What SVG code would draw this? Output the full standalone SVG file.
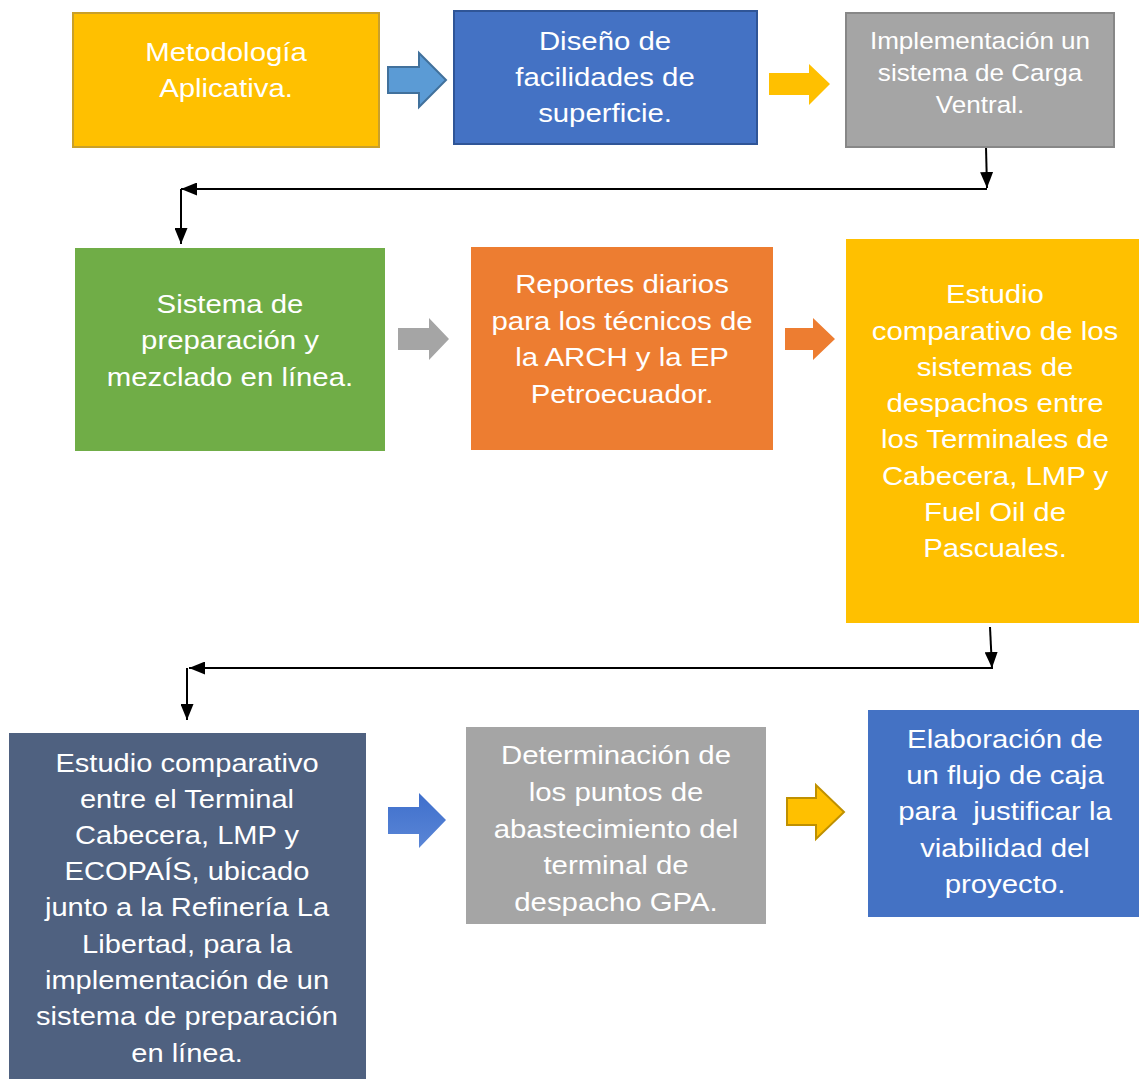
<svg xmlns="http://www.w3.org/2000/svg" width="1139" height="1079" viewBox="0 0 1139 1079">
<defs>
<style>
text{font-family:"Liberation Sans",Arial,sans-serif;font-size:26.7px;fill:#fff;text-anchor:middle}
.s text{font-size:23.7px}
.m text{font-size:26.4px}
.con{stroke:#000;stroke-width:2;fill:none}
</style>
<marker id="ah" viewBox="0 0 16 13" refX="16" refY="6.5" markerWidth="16" markerHeight="13" markerUnits="userSpaceOnUse" orient="auto"><path d="M0,0L16,6.5L0,13z" fill="#000"/></marker>
<linearGradient id="bg" x1="0" y1="0" x2="0" y2="1"><stop offset="0" stop-color="#3F6FCC"/><stop offset="1" stop-color="#5A86D6"/></linearGradient>
</defs>
<g id="connectors">
<path class="con" d="M986,147L987,188" marker-end="url(#ah)" stroke-width="3"/>
<path class="con" d="M987,189L181,189" marker-end="url(#ah)"/>
<path class="con" d="M181,189L181,244" marker-end="url(#ah)"/>
<path class="con" d="M990,627L992,668" marker-end="url(#ah)" stroke-width="3"/>
<path class="con" d="M993,668L189,668" marker-end="url(#ah)"/>
<path class="con" d="M187,668L187,720" marker-end="url(#ah)"/>
<path id="a1" d="M388,67H419V53L446,80L419,107V93H388Z" fill="#5B9BD5" stroke="#41719C" stroke-width="2"/>
<path id="a2" d="M769,73H809V64L830,84L809,105V95H769Z" fill="#FFC000"/>
<path id="a3" d="M398,328H429V318L449,339L429,360V350H398Z" fill="#A5A5A5"/>
<path id="a4" d="M785,328H813V318L835,339L813,360V350H785Z" fill="#ED7D31"/>
<path id="a5" d="M388,807H419V793L446,820L419,848V834H388Z" fill="url(#bg)"/>
<path id="a6" d="M787,798H816V785L844,812L816,839V825H787Z" fill="#FFC000" stroke="#BF9000" stroke-width="2"/>
</g>
<g id="n1"><rect x="73" y="13" width="306" height="134" fill="#FFC000" stroke="#C9A02A" stroke-width="2"/>
<g transform="translate(226 0) scale(1.1 1)"><text x="0" y="61">Metodología</text><text x="0" y="97">Aplicativa.</text></g></g>
<g id="n2"><rect x="454" y="11" width="303" height="133" fill="#4472C4" stroke="#2F5597" stroke-width="2"/>
<g transform="translate(605 0) scale(1.1 1)"><text x="0" y="50">Diseño de</text><text x="0" y="86">facilidades de</text><text x="0" y="122">superficie.</text></g></g>
<g id="n3"><rect x="846" y="13" width="268" height="134" fill="#A5A5A5" stroke="#878787" stroke-width="2"/>
<g class="s" transform="translate(980 0) scale(1.1 1)"><text x="0" y="49">Implementación un</text><text x="0" y="81">sistema de Carga</text><text x="0" y="113">Ventral.</text></g></g>
<g id="n4"><rect x="75" y="248" width="310" height="203" fill="#70AD47"/>
<g transform="translate(230 0) scale(1.1 1)"><text x="0" y="313">Sistema de</text><text x="0" y="349">preparación y</text><text x="0" y="386">mezclado en línea.</text></g></g>
<g id="n5"><rect x="471" y="247" width="302" height="203" fill="#ED7D31"/>
<g transform="translate(622 0) scale(1.1 1)"><text x="0" y="293">Reportes diarios</text><text x="0" y="330">para los técnicos de</text><text x="0" y="366">la ARCH y la EP</text><text x="0" y="403">Petroecuador.</text></g></g>
<g id="n6"><rect x="846" y="239" width="293" height="384" fill="#FFC000"/>
<g transform="translate(995 0) scale(1.1 1)"><text x="0" y="303">Estudio</text><text x="0" y="340">comparativo de los</text><text x="0" y="376">sistemas de</text><text x="0" y="412">despachos entre</text><text x="0" y="448">los Terminales de</text><text x="0" y="485">Cabecera, LMP y</text><text x="0" y="521">Fuel Oil de</text><text x="0" y="557">Pascuales.</text></g></g>
<g id="n7"><rect x="9" y="733" width="357" height="346" fill="#4F6180"/>
<g class="m" transform="translate(187 0) scale(1.1 1)"><text x="0" y="772">Estudio comparativo</text><text x="0" y="808">entre el Terminal</text><text x="0" y="844">Cabecera, LMP y</text><text x="0" y="880">ECOPAÍS, ubicado</text><text x="0" y="916">junto a la Refinería La</text><text x="0" y="953">Libertad, para la</text><text x="0" y="989">implementación de un</text><text x="0" y="1025">sistema de preparación</text><text x="0" y="1062">en línea.</text></g></g>
<g id="n8"><rect x="466" y="727" width="300" height="197" fill="#A5A5A5"/>
<g transform="translate(616 0) scale(1.1 1)"><text x="0" y="764">Determinación de</text><text x="0" y="801">los puntos de</text><text x="0" y="838">abastecimiento del</text><text x="0" y="874">terminal de</text><text x="0" y="911">despacho GPA.</text></g></g>
<g id="n9"><rect x="868" y="710" width="271" height="207" fill="#4472C4"/>
<g transform="translate(1005 0) scale(1.1 1)"><text x="0" y="748">Elaboración de</text><text x="0" y="784">un flujo de caja</text><text x="0" y="820" xml:space="preserve">para  justificar la</text><text x="0" y="857">viabilidad del</text><text x="0" y="893">proyecto.</text></g></g>
</svg>
